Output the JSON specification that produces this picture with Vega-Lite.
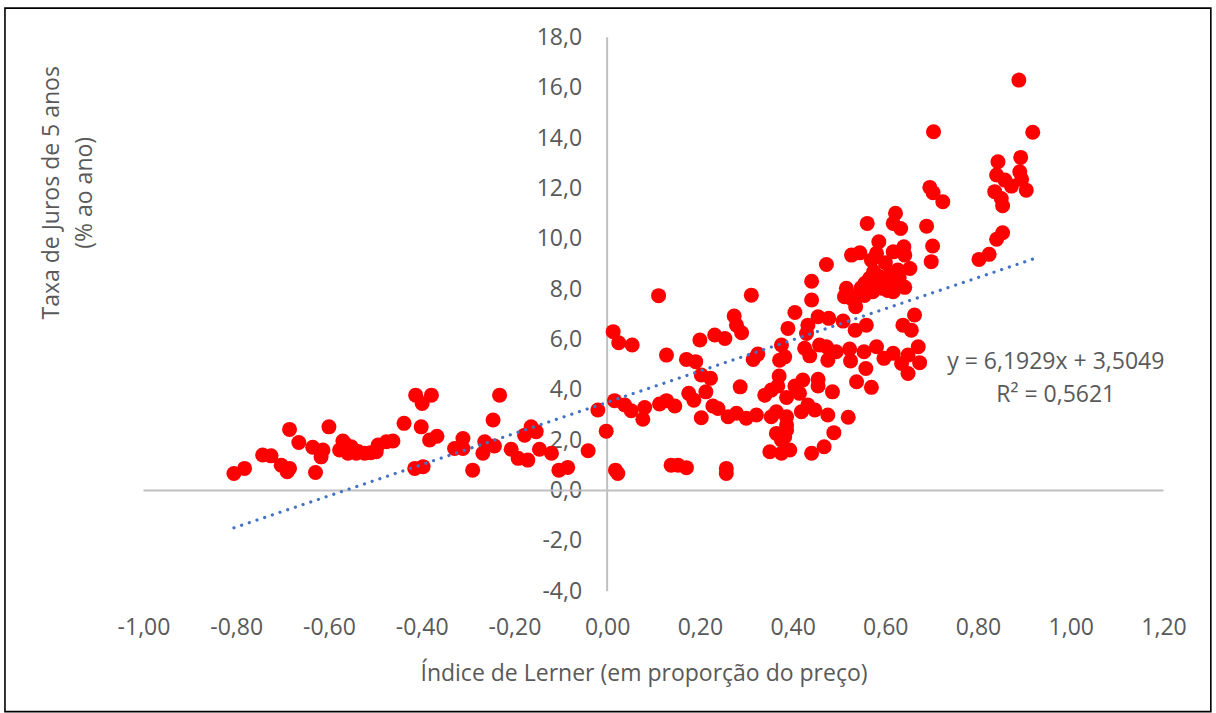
{
  "$schema": "https://vega.github.io/schema/vega-lite/v6.json",
  "width": 1020,
  "height": 554,
  "autosize": {"type": "none"},
  "padding": {"left": 143.5, "top": 37.3, "right": 52.5, "bottom": 121.7},
  "background": "white",
  "config": {"view": {"stroke": null}, "font": "Open Sans"},
  "data": {"values": [{}]},
  "datasets": {
    "pontos": [
      {"lerner": -0.805, "juros": 0.68}, {"lerner": -0.782, "juros": 0.88}, {"lerner": -0.743, "juros": 1.41}, {"lerner": -0.725, "juros": 1.38},
      {"lerner": -0.703, "juros": 1.01}, {"lerner": -0.685, "juros": 0.88}, {"lerner": -0.690, "juros": 0.75}, {"lerner": -0.685, "juros": 2.43},
      {"lerner": -0.665, "juros": 1.91}, {"lerner": -0.635, "juros": 1.72}, {"lerner": -0.613, "juros": 1.61}, {"lerner": -0.617, "juros": 1.34},
      {"lerner": -0.629, "juros": 0.72}, {"lerner": -0.600, "juros": 2.53}, {"lerner": -0.577, "juros": 1.61}, {"lerner": -0.570, "juros": 1.97},
      {"lerner": -0.566, "juros": 1.87}, {"lerner": -0.552, "juros": 1.74}, {"lerner": -0.559, "juros": 1.48}, {"lerner": -0.541, "juros": 1.48},
      {"lerner": -0.537, "juros": 1.55}, {"lerner": -0.523, "juros": 1.48}, {"lerner": -0.510, "juros": 1.50}, {"lerner": -0.498, "juros": 1.54},
      {"lerner": -0.494, "juros": 1.81}, {"lerner": -0.476, "juros": 1.94}, {"lerner": -0.462, "juros": 1.97}, {"lerner": -0.438, "juros": 2.67},
      {"lerner": -0.413, "juros": 3.79}, {"lerner": -0.399, "juros": 3.46}, {"lerner": -0.379, "juros": 3.79}, {"lerner": -0.401, "juros": 2.53},
      {"lerner": -0.383, "juros": 2.01}, {"lerner": -0.367, "juros": 2.16}, {"lerner": -0.415, "juros": 0.88}, {"lerner": -0.397, "juros": 0.95},
      {"lerner": -0.329, "juros": 1.67}, {"lerner": -0.311, "juros": 2.07}, {"lerner": -0.311, "juros": 1.67}, {"lerner": -0.290, "juros": 0.81},
      {"lerner": -0.264, "juros": 1.94}, {"lerner": -0.268, "juros": 1.48}, {"lerner": -0.246, "juros": 2.80}, {"lerner": -0.232, "juros": 3.79},
      {"lerner": -0.243, "juros": 1.77}, {"lerner": -0.207, "juros": 1.64}, {"lerner": -0.192, "juros": 1.28}, {"lerner": -0.171, "juros": 1.21},
      {"lerner": -0.178, "juros": 2.20}, {"lerner": -0.164, "juros": 2.53}, {"lerner": -0.153, "juros": 2.34}, {"lerner": -0.146, "juros": 1.64},
      {"lerner": -0.120, "juros": 1.48}, {"lerner": -0.104, "juros": 0.81}, {"lerner": -0.085, "juros": 0.92}, {"lerner": -0.041, "juros": 1.58},
      {"lerner": -0.020, "juros": 3.20}, {"lerner": -0.002, "juros": 2.36},
      {"lerner": 0.016, "juros": 3.57}, {"lerner": 0.038, "juros": 3.40}, {"lerner": 0.052, "juros": 3.17}, {"lerner": 0.081, "juros": 3.30},
      {"lerner": 0.077, "juros": 2.83}, {"lerner": 0.113, "juros": 3.44}, {"lerner": 0.128, "juros": 3.57}, {"lerner": 0.146, "juros": 3.36},
      {"lerner": 0.013, "juros": 6.31}, {"lerner": 0.025, "juros": 5.87}, {"lerner": 0.054, "juros": 5.78}, {"lerner": 0.111, "juros": 7.74},
      {"lerner": 0.128, "juros": 5.38}, {"lerner": 0.171, "juros": 5.21}, {"lerner": 0.191, "juros": 5.12}, {"lerner": 0.200, "juros": 5.98},
      {"lerner": 0.232, "juros": 6.18}, {"lerner": 0.254, "juros": 6.04}, {"lerner": 0.274, "juros": 6.93}, {"lerner": 0.279, "juros": 6.57},
      {"lerner": 0.290, "juros": 6.27}, {"lerner": 0.311, "juros": 7.76}, {"lerner": 0.315, "juros": 5.21}, {"lerner": 0.325, "juros": 5.42},
      {"lerner": 0.203, "juros": 4.59}, {"lerner": 0.223, "juros": 4.46}, {"lerner": 0.213, "juros": 3.92}, {"lerner": 0.176, "juros": 3.86},
      {"lerner": 0.187, "juros": 3.59}, {"lerner": 0.287, "juros": 4.12}, {"lerner": 0.018, "juros": 0.81}, {"lerner": 0.023, "juros": 0.68},
      {"lerner": 0.138, "juros": 1.01}, {"lerner": 0.153, "juros": 1.01}, {"lerner": 0.171, "juros": 0.91}, {"lerner": 0.257, "juros": 0.88},
      {"lerner": 0.257, "juros": 0.68}, {"lerner": 0.203, "juros": 2.89}, {"lerner": 0.228, "juros": 3.36}, {"lerner": 0.239, "juros": 3.26},
      {"lerner": 0.261, "juros": 2.93}, {"lerner": 0.279, "juros": 3.07}, {"lerner": 0.300, "juros": 2.87}, {"lerner": 0.322, "juros": 3.00},
      {"lerner": 0.340, "juros": 3.79}, {"lerner": 0.354, "juros": 3.99}, {"lerner": 0.368, "juros": 4.15}, {"lerner": 0.371, "juros": 4.55},
      {"lerner": 0.387, "juros": 3.70}, {"lerner": 0.354, "juros": 2.93}, {"lerner": 0.365, "juros": 3.13}, {"lerner": 0.387, "juros": 2.93},
      {"lerner": 0.387, "juros": 2.60}, {"lerner": 0.387, "juros": 2.40}, {"lerner": 0.365, "juros": 2.27}, {"lerner": 0.383, "juros": 2.14},
      {"lerner": 0.376, "juros": 2.01}, {"lerner": 0.351, "juros": 1.54}, {"lerner": 0.376, "juros": 1.48}, {"lerner": 0.394, "juros": 1.61},
      {"lerner": 0.376, "juros": 5.78}, {"lerner": 0.383, "juros": 5.31}, {"lerner": 0.372, "juros": 5.18}, {"lerner": 0.390, "juros": 6.44},
      {"lerner": 0.405, "juros": 4.15}, {"lerner": 0.415, "juros": 3.86}, {"lerner": 0.422, "juros": 4.39}, {"lerner": 0.455, "juros": 4.42},
      {"lerner": 0.455, "juros": 4.15}, {"lerner": 0.419, "juros": 3.13}, {"lerner": 0.433, "juros": 3.40}, {"lerner": 0.448, "juros": 3.20},
      {"lerner": 0.476, "juros": 3.00}, {"lerner": 0.486, "juros": 3.92}, {"lerner": 0.489, "juros": 2.30}, {"lerner": 0.468, "juros": 1.74},
      {"lerner": 0.441, "juros": 1.48}, {"lerner": 0.520, "juros": 2.91}, {"lerner": 0.538, "juros": 4.32}, {"lerner": 0.570, "juros": 4.10},
      {"lerner": 0.426, "juros": 5.65}, {"lerner": 0.437, "juros": 5.35}, {"lerner": 0.458, "juros": 5.78}, {"lerner": 0.473, "juros": 5.71},
      {"lerner": 0.476, "juros": 5.18}, {"lerner": 0.494, "juros": 5.51}, {"lerner": 0.523, "juros": 5.62}, {"lerner": 0.525, "juros": 5.15},
      {"lerner": 0.554, "juros": 5.51}, {"lerner": 0.558, "juros": 4.85}, {"lerner": 0.581, "juros": 5.71}, {"lerner": 0.597, "juros": 5.25},
      {"lerner": 0.617, "juros": 5.45}, {"lerner": 0.635, "juros": 5.05}, {"lerner": 0.649, "juros": 4.65}, {"lerner": 0.649, "juros": 5.38},
      {"lerner": 0.671, "juros": 5.71}, {"lerner": 0.674, "juros": 5.08},
      {"lerner": 0.405, "juros": 7.07}, {"lerner": 0.430, "juros": 6.24}, {"lerner": 0.433, "juros": 6.57}, {"lerner": 0.455, "juros": 6.90},
      {"lerner": 0.478, "juros": 6.84}, {"lerner": 0.509, "juros": 6.73}, {"lerner": 0.535, "juros": 6.37}, {"lerner": 0.559, "juros": 6.57},
      {"lerner": 0.638, "juros": 6.57}, {"lerner": 0.656, "juros": 6.37}, {"lerner": 0.663, "juros": 6.97},
      {"lerner": 0.516, "juros": 8.03}, {"lerner": 0.512, "juros": 7.70}, {"lerner": 0.525, "juros": 7.65}, {"lerner": 0.534, "juros": 7.57},
      {"lerner": 0.536, "juros": 7.30}, {"lerner": 0.545, "juros": 7.83}, {"lerner": 0.573, "juros": 7.90}, {"lerner": 0.556, "juros": 8.23},
      {"lerner": 0.566, "juros": 8.43}, {"lerner": 0.588, "juros": 8.49}, {"lerner": 0.609, "juros": 8.56}, {"lerner": 0.627, "juros": 8.76},
      {"lerner": 0.653, "juros": 8.82}, {"lerner": 0.595, "juros": 8.03}, {"lerner": 0.617, "juros": 7.90}, {"lerner": 0.642, "juros": 8.07},
      {"lerner": 0.473, "juros": 8.98}, {"lerner": 0.441, "juros": 8.31}, {"lerner": 0.441, "juros": 7.57}, {"lerner": 0.527, "juros": 9.35},
      {"lerner": 0.545, "juros": 9.44}, {"lerner": 0.581, "juros": 9.42}, {"lerner": 0.617, "juros": 9.48}, {"lerner": 0.640, "juros": 9.68},
      {"lerner": 0.642, "juros": 9.35}, {"lerner": 0.586, "juros": 9.88}, {"lerner": 0.561, "juros": 10.61}, {"lerner": 0.617, "juros": 10.61},
      {"lerner": 0.622, "juros": 11.01}, {"lerner": 0.633, "juros": 10.41}, {"lerner": 0.689, "juros": 10.50}, {"lerner": 0.702, "juros": 9.71},
      {"lerner": 0.699, "juros": 9.09}, {"lerner": 0.724, "juros": 11.47}, {"lerner": 0.575, "juros": 8.70}, {"lerner": 0.600, "juros": 9.05},
      {"lerner": 0.555, "juros": 7.75}, {"lerner": 0.620, "juros": 8.25}, {"lerner": 0.565, "juros": 8.00}, {"lerner": 0.590, "juros": 8.25},
      {"lerner": 0.605, "juros": 7.95}, {"lerner": 0.570, "juros": 9.15}, {"lerner": 0.630, "juros": 8.45}, {"lerner": 0.548, "juros": 8.05},
      {"lerner": 0.888, "juros": 16.30}, {"lerner": 0.704, "juros": 14.25}, {"lerner": 0.918, "juros": 14.23}, {"lerner": 0.892, "juros": 13.23},
      {"lerner": 0.843, "juros": 13.06}, {"lerner": 0.840, "juros": 12.53}, {"lerner": 0.858, "juros": 12.33}, {"lerner": 0.872, "juros": 12.09},
      {"lerner": 0.890, "juros": 12.66}, {"lerner": 0.894, "juros": 12.36}, {"lerner": 0.904, "juros": 11.93}, {"lerner": 0.836, "juros": 11.87},
      {"lerner": 0.850, "juros": 11.60}, {"lerner": 0.853, "juros": 11.31}, {"lerner": 0.696, "juros": 12.04}, {"lerner": 0.703, "juros": 11.83},
      {"lerner": 0.853, "juros": 10.24}, {"lerner": 0.840, "juros": 9.98}, {"lerner": 0.824, "juros": 9.38}, {"lerner": 0.802, "juros": 9.18}
    ],
    "tendencia": [
      {"lerner": -0.805, "juros": -1.480},
      {"lerner": 0.918, "juros": 9.190}
    ]
  },
  "layer": [
    {
      "mark": {"type": "rect", "fill": null, "stroke": "#000000", "strokeWidth": 1.6},
      "encoding": {
        "x": {"datum": -1.2988, "type": "quantitative", "scale": {"domain": [-1, 1.2], "nice": false, "zero": false}},
        "x2": {"datum": 1.3021},
        "y": {"datum": 19.16, "type": "quantitative", "scale": {"domain": [-4, 18], "nice": false, "zero": false}},
        "y2": {"datum": -8.78}
      }
    },
    {
      "mark": {"type": "rule", "color": "#c0c0c0", "strokeWidth": 2},
      "encoding": {"y": {"datum": 0, "type": "quantitative"}}
    },
    {
      "mark": {"type": "rule", "color": "#c0c0c0", "strokeWidth": 2},
      "encoding": {"x": {"datum": 0, "type": "quantitative"}}
    },
    {
      "data": {"name": "pontos"},
      "mark": {"type": "point", "shape": "circle", "filled": true, "color": "#ff0000", "opacity": 1, "size": 225},
      "encoding": {
        "x": {
          "field": "lerner", "type": "quantitative",
          "axis": {
            "title": "Índice de Lerner (em proporção do preço)",
            "values": [-1, -0.8, -0.6, -0.4, -0.2, 0, 0.2, 0.4, 0.6, 0.8, 1, 1.2],
            "labelExpr": "(datum.value < 0 ? '-' : '') + replace(format(abs(datum.value), '.2f'), '.', ',')",
            "domain": false, "ticks": false, "tickSize": 0, "grid": false,
            "labelFontSize": 23, "labelColor": "#595959", "labelFont": "Open Sans",
            "labelBaseline": "alphabetic", "labelPadding": 43, "labelFlush": false, "labelOverlap": false,
            "titleFontSize": 23, "titleColor": "#595959", "titleFont": "Open Sans", "titleFontWeight": "normal",
            "titleX": 500, "titleY": 89, "titleAlign": "center", "titleBaseline": "alphabetic", "titleAnchor": null
          }
        },
        "y": {
          "field": "juros", "type": "quantitative",
          "axis": {
            "title": ["Taxa de Juros de 5 anos", "(% ao ano)"],
            "values": [-4, -2, 0, 2, 4, 6, 8, 10, 12, 14, 16, 18],
            "labelExpr": "(datum.value < 0 ? '-' : '') + replace(format(abs(datum.value), '.1f'), '.', ',')",
            "offset": -463.6,
            "domain": false, "ticks": false, "tickSize": 0, "grid": false,
            "labelFontSize": 23, "labelColor": "#595959", "labelFont": "Open Sans",
            "labelPadding": 25.5, "labelFlush": false, "labelOverlap": false,
            "titleFontSize": 23, "titleColor": "#595959", "titleFont": "Open Sans", "titleFontWeight": "normal",
            "titleLineHeight": 33,
            "titleX": -548.5, "titleY": 155, "titleAngle": -90, "titleAlign": "center", "titleBaseline": "alphabetic", "titleAnchor": null
          }
        }
      }
    },
    {
      "data": {"name": "tendencia"},
      "mark": {"type": "line", "color": "#4472c4", "strokeWidth": 3.2, "strokeCap": "round", "strokeDash": [0.1, 8]},
      "encoding": {
        "x": {"field": "lerner", "type": "quantitative"},
        "y": {"field": "juros", "type": "quantitative"}
      }
    },
    {
      "mark": {"type": "text", "font": "Open Sans", "fontSize": 23, "color": "#595959", "align": "center", "baseline": "alphabetic", "lineHeight": 32.4},
      "encoding": {
        "x": {"datum": 0.9676, "type": "quantitative"},
        "y": {"datum": 4.813, "type": "quantitative"},
        "text": {"value": ["y = 6,1929x + 3,5049", "R² = 0,5621"]}
      }
    }
  ]
}
